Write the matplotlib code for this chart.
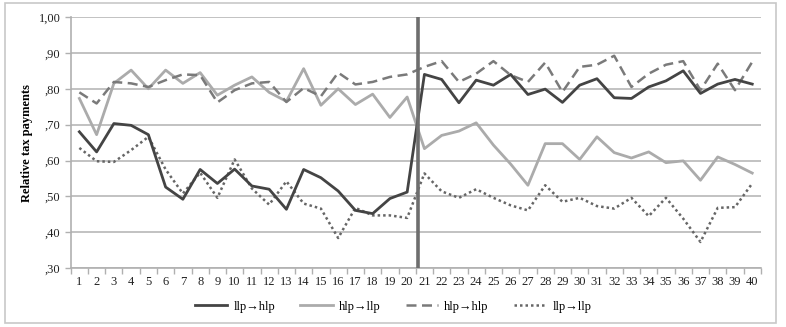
import numpy as np
import matplotlib
matplotlib.use('Agg')
import matplotlib.pyplot as plt
from matplotlib.patches import Rectangle

# periods
periods = list(range(1, 41))

# series
llp_hlp = [0.680, 0.624, 0.703, 0.698, 0.672, 0.526, 0.492, 0.575, 0.536, 0.576,
           0.529, 0.520, 0.464, 0.575, 0.552, 0.515, 0.461, 0.452, 0.494, 0.512,
           0.840, 0.826, 0.761, 0.824, 0.810, 0.840, 0.784, 0.799, 0.762, 0.810,
           0.828, 0.775, 0.773, 0.805, 0.822, 0.850, 0.787, 0.813, 0.826, 0.813]
hlp_llp = [0.773, 0.672, 0.815, 0.852, 0.800, 0.852, 0.815, 0.845, 0.782, 0.810,
           0.833, 0.790, 0.765, 0.856, 0.754, 0.800, 0.756, 0.785, 0.720, 0.777,
           0.633, 0.670, 0.682, 0.705, 0.643, 0.590, 0.531, 0.647, 0.647, 0.603,
           0.666, 0.622, 0.607, 0.624, 0.594, 0.599, 0.545, 0.610, 0.589, 0.565]
hlp_hlp = [0.790, 0.759, 0.819, 0.815, 0.805, 0.824, 0.840, 0.838, 0.762, 0.796,
           0.815, 0.819, 0.763, 0.802, 0.779, 0.845, 0.812, 0.819, 0.833, 0.840,
           0.861, 0.877, 0.819, 0.842, 0.877, 0.838, 0.819, 0.873, 0.791, 0.861,
           0.867, 0.892, 0.805, 0.842, 0.867, 0.877, 0.796, 0.870, 0.796, 0.875]
llp_llp = [0.635, 0.598, 0.596, 0.629, 0.666, 0.575, 0.508, 0.566, 0.496, 0.603,
           0.522, 0.477, 0.542, 0.480, 0.466, 0.384, 0.468, 0.447, 0.447, 0.440,
           0.564, 0.514, 0.496, 0.520, 0.496, 0.475, 0.461, 0.531, 0.485, 0.496,
           0.473, 0.466, 0.496, 0.445, 0.496, 0.438, 0.373, 0.468, 0.470, 0.536]

y_ticks = [0.3, 0.4, 0.5, 0.6, 0.7, 0.8, 0.9, 1.0]
y_labels = [',30', ',40', ',50', ',60', ',70', ',80', ',90', '1,00']
switch_at = 20.6

plt.rcParams['font.family'] = ['Liberation Serif', 'DejaVu Serif']

fig = plt.figure(figsize=(7.86, 3.27), dpi=100)
ax = fig.add_axes([0.090, 0.180, 0.878, 0.768])

# outer frame
fig.patches.append(Rectangle((0.006, 0.012), 0.981, 0.978, transform=fig.transFigure,
                             fill=False, edgecolor='#c8c8c8', linewidth=1.2))

ax.plot(periods, llp_hlp, color='#444444', lw=2.0, label='llp\u2192hlp', zorder=4)
ax.plot(periods, hlp_llp, color='#ababab', lw=2.0, label='hlp\u2192llp', zorder=3)
ax.plot(periods, hlp_hlp, color='#7a7a7a', lw=1.8, ls=(0, (4, 2.2)), label='hlp\u2192hlp', zorder=3)
ax.plot(periods, llp_llp, color='#666666', lw=1.8, ls=(0, (1, 1.2)), label='llp\u2192llp', zorder=3)

ax.axvline(switch_at, color='#6e6e6e', lw=2.6, zorder=5)

ax.set_xlim(0.5, 40.5)
ax.set_ylim(0.3, 1.0)
ax.set_yticks(y_ticks)
ax.set_yticklabels(y_labels)
ax.set_xticks(periods)
ax.set_xticklabels([str(p) for p in periods])
ax.set_xticks(np.arange(0.5, 41, 1), minor=True)
ax.tick_params(axis='x', which='major', length=0, labelsize=9, pad=6, colors='#222222')
ax.tick_params(axis='x', which='minor', length=4, color='#b0b0b0', width=1)
ax.tick_params(axis='y', length=4, color='#b0b0b0', width=1, labelsize=9, colors='#222222')

ax.grid(axis='y', color='#bdbdbd', lw=1.3)
ax.set_axisbelow(True)
for s in ['top', 'right']:
    ax.spines[s].set_visible(False)
ax.spines['left'].set_color('#b0b0b0')
ax.spines['bottom'].set_color('#b0b0b0')
ax.spines['left'].set_linewidth(1.2)
ax.spines['bottom'].set_linewidth(1.2)

ax.set_ylabel('Relative tax payments', fontsize=9, fontweight='bold', labelpad=4)

fig.legend(loc='center', bbox_to_anchor=(0.5, 0.062), ncol=4, frameon=False,
           fontsize=9, handlelength=2.6, columnspacing=2.0, handletextpad=0.5)

fig.savefig('out.png', dpi=100)
